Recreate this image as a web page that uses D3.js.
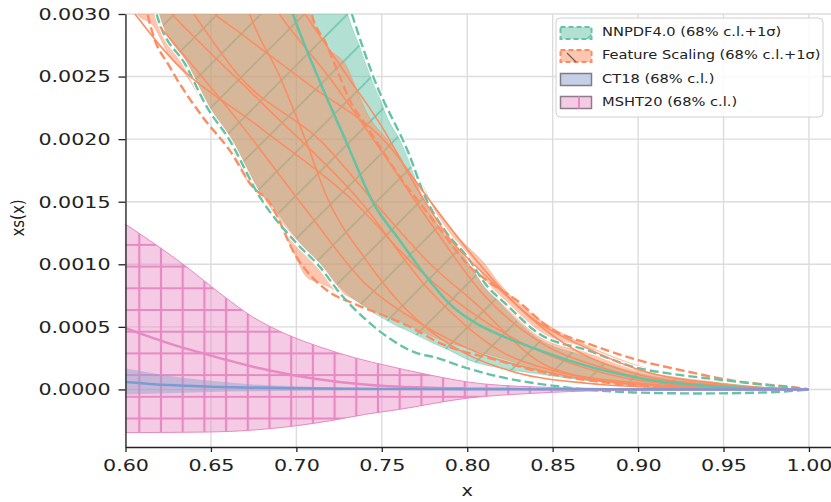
<!DOCTYPE html>
<html>
<head>
<meta charset="utf-8">
<script src="https://cdn.jsdelivr.net/npm/d3@7"></script>
<style>
  body { margin: 0; background: #fff; }
  svg { font-family: "DejaVu Sans", sans-serif; }
</style>
</head>
<body>
<svg></svg>
<script>
const width = 831;
const height = 502;

// tick values
const xTicks = [0.6, 0.65, 0.7, 0.75, 0.8, 0.85, 0.9, 0.95, 1.0];
const yTicks = [0, 0.0005, 0.001, 0.0015, 0.002, 0.0025, 0.003];

// NNPDF4.0
const nnpdfCentral = [[0.68, 0.0038], [0.698, 0.003], [0.714, 0.00245], [0.7295, 0.00197], [0.745, 0.00149], [0.76, 0.0012], [0.775, 0.00092], [0.79, 0.00068], [0.805, 0.00053], [0.82, 0.00043], [0.835, 0.00035], [0.862, 0.00022], [0.901, 0.00009], [0.95, 0.00002], [1.0, 0]];
const nnpdfHi68 = [[0.726, 0.0032], [0.73, 0.003], [0.7448, 0.0025], [0.752, 0.00221], [0.765, 0.0019], [0.775, 0.0016], [0.79, 0.00122], [0.805, 0.00095], [0.82, 0.00068], [0.84, 0.00042], [0.87, 0.00026], [0.9, 0.00013], [0.95, 0.00005], [1.0, 0]];
const nnpdfLo68 = [[0.617, 0.0032], [0.62, 0.003], [0.636, 0.00256], [0.648, 0.00226], [0.661, 0.00196], [0.673, 0.00166], [0.684, 0.0015], [0.7, 0.00121], [0.714, 0.00099], [0.726, 0.00081], [0.74, 0.00066], [0.753, 0.00055], [0.768, 0.00045], [0.78, 0.00037], [0.79, 0.00031], [0.8, 0.00024], [0.82, 0.00017], [0.839, 0.00013], [0.878, 0.00006], [0.917, 0.00002], [0.96, 0.000005], [1.0, 0]];
const nnpdfHi1s = [[0.728, 0.0032], [0.7325, 0.003], [0.745, 0.0025], [0.7665, 0.00186], [0.775, 0.00155], [0.788, 0.00125], [0.8, 0.00106], [0.812, 0.00082], [0.822, 0.00069], [0.8415, 0.00045], [0.871, 0.00031], [0.9, 0.00017], [0.917, 0.00013], [0.946, 0.00008], [1.0, 0]];
const nnpdfLo1s = [[0.615, 0.0032], [0.6182, 0.003], [0.6357, 0.00258], [0.6475, 0.00226], [0.661, 0.00199], [0.6785, 0.00154], [0.7, 0.00117], [0.7137, 0.00098], [0.7254, 0.00077], [0.743, 0.00053], [0.7588, 0.00037], [0.7705, 0.00029], [0.78, 0.00026], [0.8, 0.00017], [0.8192, 0.0001], [0.85, 0.00003], [0.8973, -0.000024], [0.9366, -0.000032], [0.9742, -0.000024], [1.0, 0]];

// Feature Scaling
const fsHi68 = [[0.703, 0.0032], [0.7078, 0.003], [0.7178, 0.00274], [0.7295, 0.00258], [0.7354, 0.00239], [0.7413, 0.00221], [0.7547, 0.00197], [0.7606, 0.00186], [0.7647, 0.00175], [0.7706, 0.00165], [0.7764, 0.00154], [0.7823, 0.00143], [0.7864, 0.00135], [0.798, 0.00117], [0.8098, 0.00101], [0.8174, 0.00087], [0.83, 0.00069], [0.85, 0.00049], [0.875, 0.00032], [0.9, 0.00019], [0.95, 0.00005], [1.0, 0]];
const fsLo68 = [[0.6, 0.0032], [0.607, 0.003], [0.616, 0.00291], [0.626, 0.00266], [0.636, 0.0025], [0.648, 0.00223], [0.655, 0.0021], [0.661, 0.00202], [0.666, 0.00183], [0.671, 0.00167], [0.679, 0.00157], [0.689, 0.00135], [0.698, 0.00111], [0.706, 0.0009], [0.714, 0.00085], [0.731, 0.00074], [0.745, 0.00063], [0.761, 0.00054], [0.784, 0.0004], [0.8, 0.00033], [0.82, 0.00025], [0.84, 0.00017], [0.87, 0.00009], [0.9, 0.00004], [0.95, 0.00001], [1.0, 0]];
const fsHi1s = [[0.707, 0.0032], [0.709, 0.003], [0.7172, 0.00277], [0.7254, 0.0025], [0.7313, 0.00231], [0.7413, 0.0021], [0.7489, 0.00194], [0.7565, 0.00178], [0.7647, 0.00162], [0.7723, 0.00149], [0.7858, 0.00125], [0.8016, 0.00098], [0.8116, 0.00087], [0.8291, 0.00071], [0.8485, 0.00049], [0.8719, 0.00036], [0.9012, 0.00023], [0.9264, 0.00015], [0.9557, 0.00007], [0.995, 0.00001], [1.0, 0]];
const fsLo1s = [[0.611, 0.0032], [0.613, 0.003], [0.6158, 0.00285], [0.6258, 0.00258], [0.645, 0.00218], [0.661, 0.00191], [0.6744, 0.00162], [0.684, 0.0015], [0.7, 0.00106], [0.718, 0.00079], [0.733, 0.00069], [0.753, 0.00058], [0.768, 0.00049], [0.784, 0.00037], [0.796, 0.00031], [0.813, 0.00025], [0.843, 0.00014], [0.872, 0.00007], [0.901, 0.00003], [0.95, 0.000005], [1.0, 0]];
const fsReplicas = [
  [[0.6, 0.0034], [0.627, 0.003], [0.682, 0.00226], [0.737, 0.00151], [0.778, 0.00079], [0.819, 0.00031], [0.854, 0.00014], [0.901, 0.00005], [0.948, 0.00001], [1.0, 0]],
  [[0.64, 0.0032], [0.65, 0.00303], [0.667, 0.00285], [0.706, 0.00245], [0.7565, 0.00191], [0.7764, 0.00154], [0.8, 0.00112], [0.83, 0.00066], [0.86, 0.00034], [0.9, 0.00012], [0.95, 0.00003], [1.0, 0]],
  [[0.668, 0.0032], [0.6727, 0.003], [0.6903, 0.0025], [0.706, 0.00197], [0.7178, 0.00154], [0.74, 0.00105], [0.76, 0.0007], [0.78, 0.00045], [0.8, 0.00028], [0.83, 0.00013], [0.87, 0.00005], [0.93, 0.00001], [1.0, 0]],
  [[0.64, 0.003], [0.6668, 0.0025], [0.7154, 0.00197], [0.7448, 0.00151], [0.78, 0.00098], [0.803, 0.00071], [0.848, 0.00018], [0.9, 0.00004], [1.0, 0]],
  [[0.62, 0.0029], [0.6668, 0.00213], [0.706, 0.00143], [0.74, 0.00085], [0.77, 0.00055], [0.8, 0.00033], [0.85, 0.00013], [0.9, 0.00004], [1.0, 0]],
  [[0.7, 0.0031], [0.705, 0.003], [0.73, 0.0025], [0.75, 0.0021], [0.77, 0.00162], [0.79, 0.0012], [0.81, 0.00092], [0.84, 0.00055], [0.87, 0.00033], [0.9, 0.00016], [0.95, 0.00004], [1.0, 0]],
  [[0.685, 0.0031], [0.69, 0.003], [0.72, 0.00248], [0.75, 0.0019], [0.78, 0.0013], [0.81, 0.00075], [0.84, 0.0004], [0.88, 0.00017], [0.93, 0.00004], [1.0, 0]],
  [[0.6, 0.0031], [0.6258, 0.00266], [0.679, 0.00209], [0.733, 0.00151], [0.77, 0.00098], [0.8, 0.00064], [0.84, 0.00032], [0.88, 0.00013], [0.93, 0.00003], [1.0, 0]],
];

// CT18
const ct18Central = [[0.6, 0.00006], [0.625, 0.000035], [0.65, 0.000022], [0.7, 0.00001], [0.75, 0.000004], [0.8, 0.000001], [1.0, 0]];
const ct18Upper = [[0.6, 0.00017], [0.625, 0.00011], [0.65, 0.00007], [0.675, 0.00004], [0.7, 0.000025], [0.75, 0.00001], [0.8, 0.000003], [1.0, 0]];
const ct18Lower = [[0.6, -0.00004], [0.65, -0.00002], [0.7, -0.00001], [0.8, -0.000002], [1.0, 0]];

// MSHT20
const mshtCentral = [[0.6, 0.00049], [0.625, 0.00037], [0.65, 0.00027], [0.675, 0.00018], [0.7, 0.00011], [0.725, 0.00006], [0.75, 0.00003], [0.8, 0.000008], [0.85, 0.000002], [0.9, 0], [1.0, 0]];
const mshtUpper = [[0.6, 0.00132], [0.6357, 0.00098], [0.6551, 0.00077], [0.6744, 0.00058], [0.6943, 0.00044], [0.7137, 0.00034], [0.735, 0.00025], [0.753, 0.00019], [0.78, 0.00011], [0.8, 0.00006], [0.84, 0.00002], [0.9, 0.000005], [1.0, 0]];
const mshtLower = [[0.6, -0.000345], [0.65, -0.00034], [0.7, -0.00029], [0.72, -0.00025], [0.74, -0.0002], [0.76, -0.00016], [0.8, -0.00007], [0.84, -0.00003], [0.88, -0.00001], [1.0, 0]];

const legendLabels = ["NNPDF4.0 (68% c.l.+1σ)", "Feature Scaling (68% c.l.+1σ)", "CT18 (68% c.l.)", "MSHT20 (68% c.l.)"];

const green = "#66c2a5", orange = "#fc8d62", blue = "#8da0cb", pink = "#e78ac3";
const textStretch = 1.25;

const margin = { top: 14, right: 0, bottom: 55, left: 125.5 };
const x = d3.scaleLinear().domain([0.6, 1.0129]).range([margin.left, width - margin.right]);
const y = d3.scaleLinear().domain([-0.00046, 0.003]).range([height - margin.bottom, margin.top]);

const svg = d3.select("svg").attr("width", width).attr("height", height);
const defs = svg.append("defs");

defs.append("clipPath").attr("id", "plot")
  .append("rect")
  .attr("x", x.range()[0]).attr("y", y.range()[1])
  .attr("width", x.range()[1] - x.range()[0])
  .attr("height", y.range()[0] - y.range()[1]);

// hatch patterns
const gh = 43.3;
const gPat = defs.append("pattern").attr("id", "hatchGreen")
  .attr("patternUnits", "userSpaceOnUse")
  .attr("x", 0).attr("y", 15.3).attr("width", gh).attr("height", gh);
gPat.append("path")
  .attr("d", `M0,${gh} L${gh},0 M${-gh / 2},${gh / 2} L${gh / 2},${-gh / 2} M${gh / 2},${gh * 1.5} L${gh * 1.5},${gh / 2}`)
  .attr("stroke", green).attr("stroke-width", 1.4);

const ph = 21.7;
const pPat = defs.append("pattern").attr("id", "hatchPink")
  .attr("patternUnits", "userSpaceOnUse")
  .attr("x", 9.1).attr("y", 6.2).attr("width", ph).attr("height", ph);
pPat.append("path")
  .attr("d", `M0,0 H${ph} M0,${ph} H${ph} M0,0 V${ph} M${ph},0 V${ph}`)
  .attr("stroke", pink).attr("stroke-width", 2.2);

// grid
const grid = svg.append("g");
grid.selectAll(".gx").data(xTicks).join("line")
  .attr("x1", d => x(d)).attr("x2", d => x(d))
  .attr("y1", y.range()[0]).attr("y2", y.range()[1])
  .attr("stroke", "#dcdcdc").attr("stroke-width", 1.4);
grid.selectAll(".gy").data(yTicks).join("line")
  .attr("x1", x.range()[0]).attr("x2", x.range()[1])
  .attr("y1", d => y(d)).attr("y2", d => y(d))
  .attr("stroke", "#dcdcdc").attr("stroke-width", 1.4);

const line = d3.line().x(d => x(d[0])).y(d => y(d[1])).curve(d3.curveMonotoneX);
const band = (hi, lo) => line(hi) + "L" + line(lo.slice().reverse()).slice(1) + "Z";

const plot = svg.append("g").attr("clip-path", "url(#plot)");

// NNPDF
plot.append("path").attr("d", band(nnpdfHi68, nnpdfLo68))
  .attr("fill", green).attr("fill-opacity", 0.5)
  .attr("stroke", green).attr("stroke-opacity", 0.4).attr("stroke-width", 1);
plot.append("path").attr("d", band(nnpdfHi68, nnpdfLo68)).attr("fill", "url(#hatchGreen)");

// Feature Scaling
plot.append("path").attr("d", band(fsHi68, fsLo68))
  .attr("fill", orange).attr("fill-opacity", 0.5)
  .attr("stroke", orange).attr("stroke-opacity", 0.4).attr("stroke-width", 1);

// dashed +1 sigma lines
[nnpdfHi1s, nnpdfLo1s].forEach(d => {
  plot.append("path").attr("d", line(d)).attr("fill", "none")
    .attr("stroke", "#fff").attr("stroke-width", 4.5);
});
[fsHi1s, fsLo1s].forEach(d => {
  plot.append("path").attr("d", line(d)).attr("fill", "none")
    .attr("stroke", orange).attr("stroke-width", 2.4).attr("stroke-dasharray", "9,4");
});
[nnpdfHi1s, nnpdfLo1s].forEach(d => {
  plot.append("path").attr("d", line(d)).attr("fill", "none")
    .attr("stroke", green).attr("stroke-width", 2.4).attr("stroke-dasharray", "9,4");
});

fsReplicas.forEach(d => {
  plot.append("path").attr("d", line(d)).attr("fill", "none")
    .attr("stroke", orange).attr("stroke-width", 1.6);
});
plot.append("path").attr("d", line(nnpdfCentral)).attr("fill", "none")
  .attr("stroke", green).attr("stroke-width", 2.5);

// MSHT20
plot.append("path").attr("d", band(mshtUpper, mshtLower))
  .attr("fill", pink).attr("fill-opacity", 0.45)
  .attr("stroke", pink).attr("stroke-width", 1);
plot.append("path").attr("d", band(mshtUpper, mshtLower)).attr("fill", "url(#hatchPink)");
plot.append("path").attr("d", line(mshtCentral)).attr("fill", "none")
  .attr("stroke", pink).attr("stroke-width", 2.5);

// CT18
plot.append("path").attr("d", band(ct18Upper, ct18Lower))
  .attr("fill", blue).attr("fill-opacity", 0.45);
plot.append("path").attr("d", line(ct18Central)).attr("fill", "none")
  .attr("stroke", "#7d9bd3").attr("stroke-width", 2.5);

// axes
const xAxis = svg.append("g").attr("transform", `translate(0,${y.range()[0]})`)
  .call(d3.axisBottom(x).tickValues(xTicks).tickFormat(d3.format(".2f")).tickSize(5).tickSizeOuter(0));
const yAxis = svg.append("g").attr("transform", `translate(${x.range()[0]},0)`)
  .call(d3.axisLeft(y).tickValues(yTicks).tickFormat(d3.format(".4f")).tickSize(7).tickSizeOuter(0));
[xAxis, yAxis].forEach(a => {
  a.select(".domain").attr("stroke", "#222").attr("stroke-width", 1.3);
  a.selectAll(".tick line").attr("stroke", "#222").attr("stroke-width", 1.3);
  a.selectAll("text").attr("font-size", 16.5).attr("fill", "#222").attr("font-family", "DejaVu Sans")
    .attr("transform", `scale(${textStretch},1)`);
});
xAxis.selectAll("text").attr("dy", "0.95em").attr("x", 0);
yAxis.selectAll("text").attr("x", -15 / textStretch);

svg.append("text").attr("transform", `translate(${(x(0.6) + x(1.0)) / 2},496) scale(${textStretch},1)`)
  .attr("text-anchor", "middle").attr("font-size", 15.5).attr("fill", "#222").text("x");
svg.append("text").attr("transform", "translate(24,218) rotate(-90) scale(1,1.2)")
  .attr("text-anchor", "middle").attr("font-size", 15).attr("fill", "#222").text("xs(x)");

// legend
const lg = svg.append("g");
lg.append("rect").attr("x", 556).attr("y", 18).attr("width", 267).attr("height", 99)
  .attr("rx", 4).attr("fill", "#fff").attr("fill-opacity", 0.85)
  .attr("stroke", "#d0d0d0").attr("stroke-width", 1);
const rowY = [33, 56, 79.5, 102.5];
const patch = (i) => lg.append("rect").attr("x", 560.5).attr("y", rowY[i] - 6)
  .attr("width", 31).attr("height", 12);
patch(0).attr("fill", green).attr("fill-opacity", 0.5)
  .attr("stroke", green).attr("stroke-width", 2).attr("stroke-dasharray", "5,3");
lg.append("line").attr("x1", 587).attr("y1", rowY[0] + 6).attr("x2", 591.5).attr("y2", rowY[0] + 1.5)
  .attr("stroke", green).attr("stroke-width", 1.3);
patch(1).attr("fill", orange).attr("fill-opacity", 0.5)
  .attr("stroke", orange).attr("stroke-width", 2).attr("stroke-dasharray", "5,3");
lg.append("line").attr("x1", 567).attr("y1", rowY[1] - 3).attr("x2", 576).attr("y2", rowY[1] + 6)
  .attr("stroke", "#6b6258").attr("stroke-width", 1.3);
patch(2).attr("fill", blue).attr("fill-opacity", 0.5)
  .attr("stroke", "#7c7c8c").attr("stroke-width", 1.5);
patch(3).attr("fill", pink).attr("fill-opacity", 0.45)
  .attr("stroke", "#8c7c86").attr("stroke-width", 1.5);
lg.append("line").attr("x1", 579).attr("x2", 579).attr("y1", rowY[3] - 6).attr("y2", rowY[3] + 6)
  .attr("stroke", pink).attr("stroke-width", 2);
lg.selectAll(".lt").data(legendLabels).join("text")
  .attr("transform", (d, i) => `translate(602,${rowY[i] - 1}) scale(1.2,1)`)
  .attr("dy", "0.35em")
  .attr("font-size", 12.2).attr("fill", "#222").text(d => d);
</script>
</body>
</html>
